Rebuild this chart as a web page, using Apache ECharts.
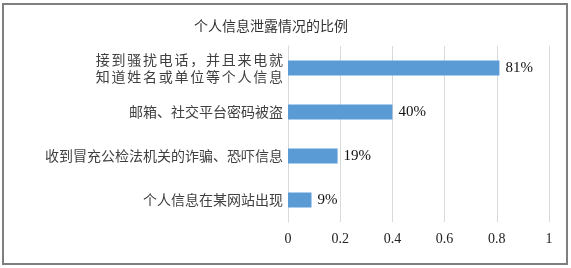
<!DOCTYPE html>
<html><head><meta charset="utf-8">
<script src="https://cdn.jsdelivr.net/npm/echarts@6/dist/echarts.min.js"></script>
<style>html,body{margin:0;padding:0;background:#fff}#c{width:571px;height:268px}</style>
</head><body><div id="c"></div>
<script>
const title = '个人信息泄露情况的比例';
const categories = ['接到骚扰电话，并且来电就\n知道姓名或单位等个人信息', '邮箱、社交平台密码被盗', '收到冒充公检法机关的诈骗、恐吓信息', '个人信息在某网站出现'];
const values = [0.81, 0.40, 0.19, 0.09];
const ticks = [0, 0.2, 0.4, 0.6, 0.8, 1];

const chart = echarts.init(document.getElementById('c'), null, {renderer: 'canvas'});
chart.setOption({
  animation: false,
  graphic: [{type: 'rect', shape: {x: 3, y: 4, width: 564, height: 260}, style: {fill: 'none', stroke: '#7f7f7f', lineWidth: 2}, silent: true}],
  title: {text: title, left: 266, top: 14, textAlign: 'center', textStyle: {fontFamily: 'Noto Sans CJK SC', fontSize: 14, fontWeight: 'normal', color: '#333'}},
  grid: {left: 288, right: 22, top: 46, bottom: 46, containLabel: false},
  xAxis: {type: 'value', min: ticks[0], max: ticks[ticks.length - 1], interval: 0.2,
    axisLine: {show: false}, axisTick: {show: false},
    splitLine: {lineStyle: {color: '#d9d9d9', width: 1}},
    axisLabel: {fontFamily: 'Liberation Serif', fontSize: 14, color: '#222', margin: 10}},
  yAxis: {type: 'category', data: categories, inverse: true,
    axisLine: {show: true, lineStyle: {color: '#d9d9d9'}}, axisTick: {show: false},
    axisLabel: {fontFamily: 'Noto Sans CJK SC', fontSize: 14, color: '#404040', margin: 5, lineHeight: 17, align: 'right',
      formatter: v => v.indexOf('\n') >= 0 ? v.split('\n').map(l => l.split('').join('\u200A\u200A')).join('\n') : v}},
  series: [{type: 'bar', data: values, barWidth: 15, itemStyle: {color: '#5b9bd5'},
    label: {show: true, position: 'right', distance: 6, fontFamily: 'Liberation Serif', fontSize: 15, color: '#111',
      formatter: p => Math.round(p.value * 100) + '%'}}]
});
</script></body></html>
